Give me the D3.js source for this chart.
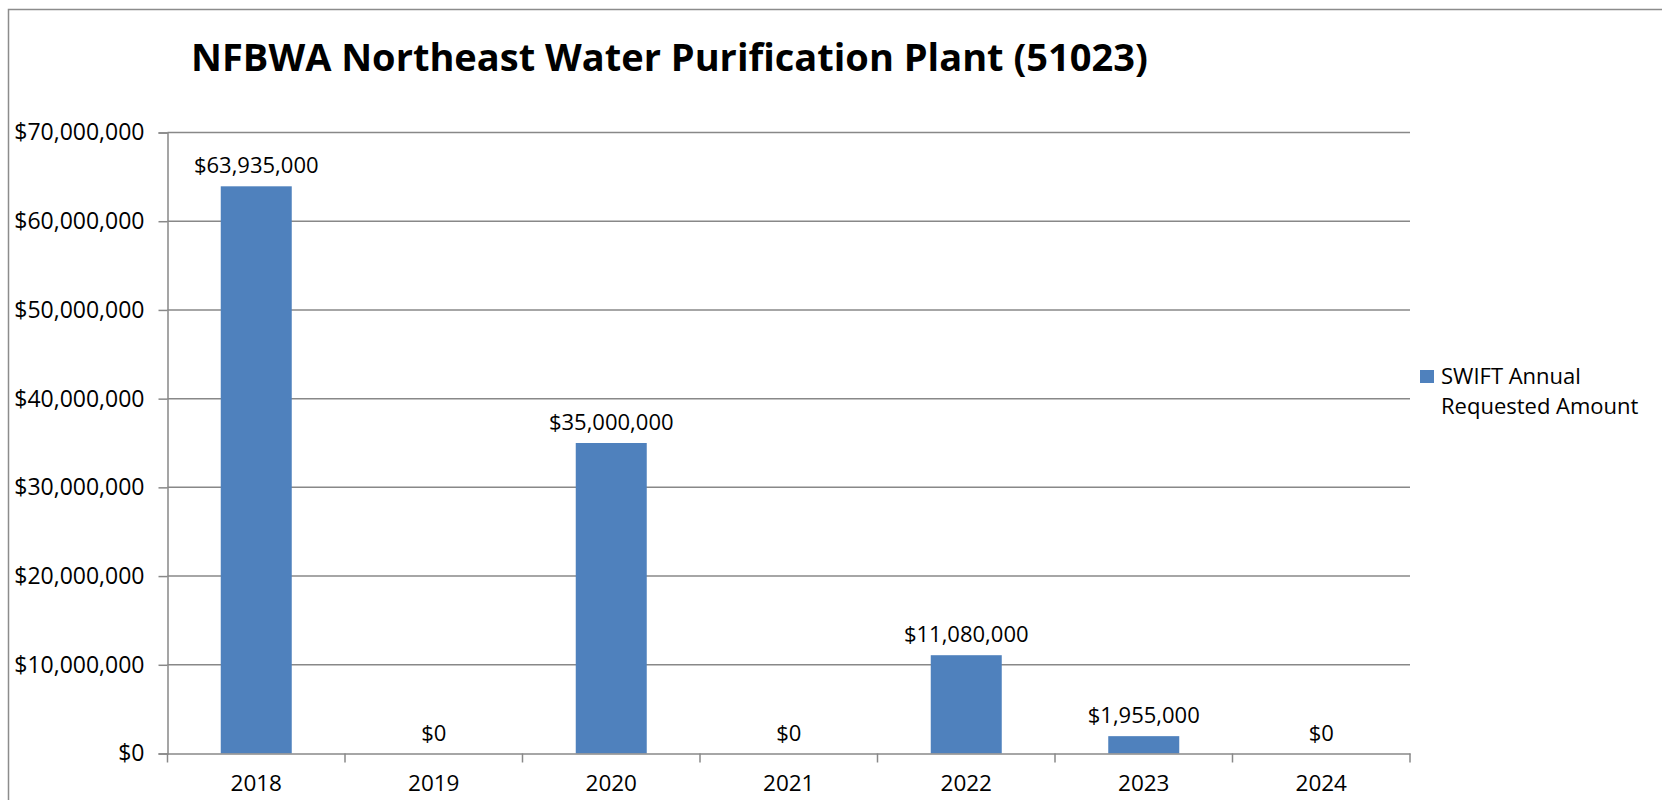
<!DOCTYPE html>
<html><head><meta charset="utf-8">
<script src="https://cdn.jsdelivr.net/npm/d3@7/dist/d3.min.js"></script>
<style>
html,body{margin:0;padding:0;background:#fff;}
svg{display:block;}
text{font-family:"Open Sans",sans-serif;fill:#000;}
</style></head>
<body>
<svg id="chart" width="1662" height="800"></svg>
<script>
const years = ["2018","2019","2020","2021","2022","2023","2024"];
const amounts = [63935000, 0, 35000000, 0, 11080000, 1955000, 0];
const yTicks = [0,10000000,20000000,30000000,40000000,50000000,60000000,70000000];
const seriesName = ["SWIFT Annual","Requested Amount"];
const titleText = "NFBWA Northeast Water Purification Plant (51023)";

const svg = d3.select("#chart");
const W = 1662, H = 800;
const m = {left:167.5, right:1410, top:132.5, bottom:753.5};

// outer border
svg.append("rect").attr("x",8.5).attr("y",9.5).attr("width",W+20).attr("height",H+20)
  .attr("fill","none").attr("stroke","#8c8c8c").attr("stroke-width",1.5);

const x = d3.scaleBand().domain(years).range([m.left,m.right]).paddingInner(0.6).paddingOuter(0.3);
const xb = d3.scaleBand().domain(years).range([m.left,m.right]);
const y = d3.scaleLinear().domain([0,70000000]).range([m.bottom,m.top]);
const fmt = v => "$" + d3.format(",")(v);

// gridlines
svg.append("g").selectAll("line").data(yTicks.filter(d=>d>0)).join("line")
  .attr("x1",m.left).attr("x2",m.right).attr("y1",d=>y(d)).attr("y2",d=>y(d))
  .attr("stroke","#888").attr("stroke-width",1.5);

// y axis
const ya = svg.append("g").attr("transform",`translate(${m.left},0)`)
  .call(d3.axisLeft(y).tickValues(yTicks).tickFormat(fmt).tickSize(9).tickPadding(14));
ya.select(".domain").attr("stroke","#888").attr("stroke-width",1.5);
ya.selectAll(".tick line").attr("stroke","#888").attr("stroke-width",1.5);
ya.selectAll("text").style("font-size","23px").attr("fill","#000");

// bars
svg.append("g").selectAll("rect").data(years).join("rect")
  .attr("x",d=>x(d)).attr("width",x.bandwidth())
  .attr("y",(d,i)=>y(amounts[i])).attr("height",(d,i)=>m.bottom-y(amounts[i]))
  .attr("fill","#4f81bd");

// x axis
const xa = svg.append("g").attr("transform",`translate(0,${m.bottom})`)
  .call(d3.axisBottom(xb).tickSize(0).tickPadding(22));
xa.select(".domain").attr("stroke","#888").attr("stroke-width",1.5);
xa.selectAll("text").style("font-size","22.5px").attr("fill","#000");
svg.append("g").selectAll("line").data(years.concat(["end"])).join("line")
  .attr("x1",(d,i)=>i<years.length?xb(d):m.right).attr("x2",(d,i)=>i<years.length?xb(d):m.right)
  .attr("y1",m.bottom).attr("y2",m.bottom+9).attr("stroke","#888").attr("stroke-width",1.5);

// data labels
svg.append("g").selectAll("text").data(years).join("text")
  .attr("x",d=>x(d)+x.bandwidth()/2).attr("y",(d,i)=>y(amounts[i])-13)
  .attr("text-anchor","middle").style("font-size","22px")
  .text((d,i)=>fmt(amounts[i]));

// title
svg.append("text").attr("x",669.5).attr("y",71).attr("text-anchor","middle")
  .style("font-size","38px").style("font-weight","bold").text(titleText);

// legend
svg.append("rect").attr("x",1420).attr("y",370).attr("width",14).attr("height",13).attr("fill","#4f81bd");
svg.append("g").selectAll("text").data(seriesName).join("text")
  .attr("x",1441).attr("y",(d,i)=>384+i*30).style("font-size","22px").text(d=>d);
</script>
</body></html>
